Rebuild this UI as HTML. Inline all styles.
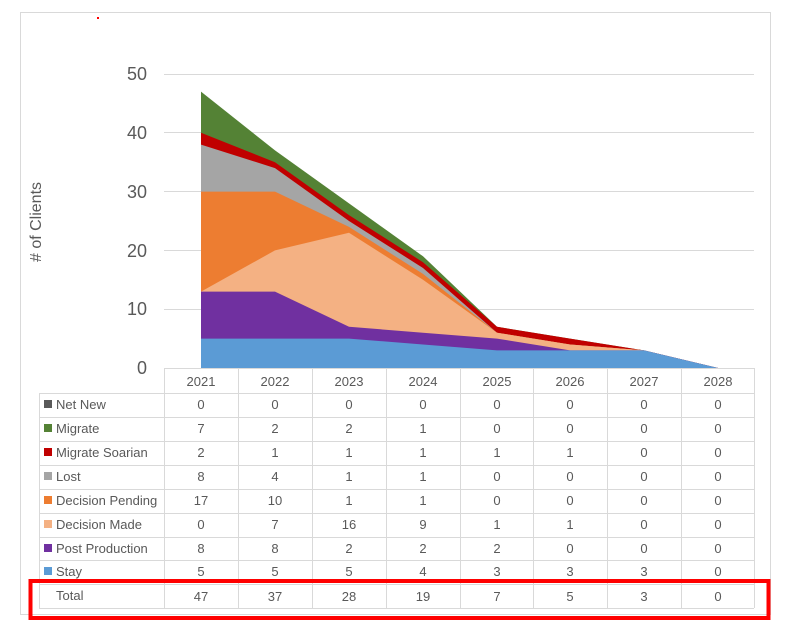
<!DOCTYPE html>
<html><head><style>
body{margin:0;background:#fff;}
svg text{font-family:"Liberation Sans",sans-serif;fill:#595959;}
</style></head><body>
<svg width="789" height="631" viewBox="0 0 789 631" xmlns="http://www.w3.org/2000/svg">
<rect x="0" y="0" width="789" height="631" fill="#fff"/>
<rect x="20.5" y="12.5" width="750" height="602" fill="none" stroke="#d9d9d9"/>
<rect x="97" y="17" width="2" height="2" fill="#f00"/>
<g stroke="#d9d9d9" stroke-width="1">
<line x1="164" y1="74.5" x2="754" y2="74.5"/>
<line x1="164" y1="132.5" x2="754" y2="132.5"/>
<line x1="164" y1="191.5" x2="754" y2="191.5"/>
<line x1="164" y1="250.5" x2="754" y2="250.5"/>
<line x1="164" y1="309.5" x2="754" y2="309.5"/>
</g>
<g font-size="18" text-anchor="end">
<text x="147" y="80">50</text><text x="147" y="139">40</text><text x="147" y="198">30</text>
<text x="147" y="257">20</text><text x="147" y="315">10</text><text x="147" y="374">0</text>
</g>
<text transform="translate(41,222) rotate(-90)" font-size="16" text-anchor="middle">#  of Clients</text>
<polygon fill="#548235" points="201,91.6 275,150.4 349,203.4 423,256.3 497,326.8 570,338.6 644,350.4 718,368 201,368"/>
<polygon fill="#c00000" points="201,132.8 275,162.2 349,215.1 423,262.2 497,326.8 570,338.6 644,350.4 718,368 201,368"/>
<polygon fill="#a5a5a5" points="201,144.6 275,168.1 349,221 423,268 497,332.7 570,344.5 644,350.4 718,368 201,368"/>
<polygon fill="#ed7d31" points="201,191.6 275,191.6 349,226.9 423,273.9 497,332.7 570,344.5 644,350.4 718,368 201,368"/>
<polygon fill="#f4b183" points="201,291.6 275,250.4 349,232.8 423,279.8 497,332.7 570,344.5 644,350.4 718,368 201,368"/>
<polygon fill="#7030a0" points="201,291.6 275,291.6 349,326.8 423,332.7 497,338.6 570,350.4 644,350.4 718,368 201,368"/>
<polygon fill="#5b9bd5" points="201,338.6 275,338.6 349,338.6 423,344.5 497,350.4 570,350.4 644,350.4 718,368 201,368"/>
<g stroke="#d9d9d9" stroke-width="1" fill="none">
<line x1="164" y1="368.5" x2="754" y2="368.5"/>
<line x1="39" y1="393.5" x2="754" y2="393.5"/>
<line x1="39" y1="417.5" x2="754" y2="417.5"/>
<line x1="39" y1="441.5" x2="754" y2="441.5"/>
<line x1="39" y1="465.5" x2="754" y2="465.5"/>
<line x1="39" y1="489.5" x2="754" y2="489.5"/>
<line x1="39" y1="513.5" x2="754" y2="513.5"/>
<line x1="39" y1="537.5" x2="754" y2="537.5"/>
<line x1="39" y1="560.5" x2="754" y2="560.5"/>
<line x1="39" y1="584.5" x2="754" y2="584.5"/>
<line x1="39" y1="608.5" x2="754" y2="608.5"/>
<line x1="39.5" y1="393" x2="39.5" y2="608"/>
<line x1="164.5" y1="368" x2="164.5" y2="608"/>
<line x1="238.5" y1="368" x2="238.5" y2="608"/>
<line x1="312.5" y1="368" x2="312.5" y2="608"/>
<line x1="386.5" y1="368" x2="386.5" y2="608"/>
<line x1="460.5" y1="368" x2="460.5" y2="608"/>
<line x1="533.5" y1="368" x2="533.5" y2="608"/>
<line x1="607.5" y1="368" x2="607.5" y2="608"/>
<line x1="681.5" y1="368" x2="681.5" y2="608"/>
<line x1="754.5" y1="368" x2="754.5" y2="608"/>
</g>
<g font-size="13" text-anchor="middle">
<text x="201" y="386">2021</text><text x="275" y="386">2022</text><text x="349" y="386">2023</text><text x="423" y="386">2024</text><text x="497" y="386">2025</text><text x="570" y="386">2026</text><text x="644" y="386">2027</text><text x="718" y="386">2028</text>
</g>
<g font-size="13">
<rect x="44" y="400" width="8" height="8" fill="#595959"/><text x="56" y="409">Net New</text>
<rect x="44" y="424" width="8" height="8" fill="#548235"/><text x="56" y="433">Migrate</text>
<rect x="44" y="448" width="8" height="8" fill="#c00000"/><text x="56" y="457">Migrate Soarian</text>
<rect x="44" y="472" width="8" height="8" fill="#a5a5a5"/><text x="56" y="481">Lost</text>
<rect x="44" y="496" width="8" height="8" fill="#ed7d31"/><text x="56" y="505">Decision Pending</text>
<rect x="44" y="520" width="8" height="8" fill="#f4b183"/><text x="56" y="529">Decision Made</text>
<rect x="44" y="544" width="8" height="8" fill="#7030a0"/><text x="56" y="553">Post Production</text>
<rect x="44" y="567" width="8" height="8" fill="#5b9bd5"/><text x="56" y="576">Stay</text>
<text x="56" y="600">Total</text>
</g>
<g font-size="13" text-anchor="middle">
<text y="409"><tspan x="201">0</tspan><tspan x="275">0</tspan><tspan x="349">0</tspan><tspan x="423">0</tspan><tspan x="497">0</tspan><tspan x="570">0</tspan><tspan x="644">0</tspan><tspan x="718">0</tspan></text>
<text y="433"><tspan x="201">7</tspan><tspan x="275">2</tspan><tspan x="349">2</tspan><tspan x="423">1</tspan><tspan x="497">0</tspan><tspan x="570">0</tspan><tspan x="644">0</tspan><tspan x="718">0</tspan></text>
<text y="457"><tspan x="201">2</tspan><tspan x="275">1</tspan><tspan x="349">1</tspan><tspan x="423">1</tspan><tspan x="497">1</tspan><tspan x="570">1</tspan><tspan x="644">0</tspan><tspan x="718">0</tspan></text>
<text y="481"><tspan x="201">8</tspan><tspan x="275">4</tspan><tspan x="349">1</tspan><tspan x="423">1</tspan><tspan x="497">0</tspan><tspan x="570">0</tspan><tspan x="644">0</tspan><tspan x="718">0</tspan></text>
<text y="505"><tspan x="201">17</tspan><tspan x="275">10</tspan><tspan x="349">1</tspan><tspan x="423">1</tspan><tspan x="497">0</tspan><tspan x="570">0</tspan><tspan x="644">0</tspan><tspan x="718">0</tspan></text>
<text y="529"><tspan x="201">0</tspan><tspan x="275">7</tspan><tspan x="349">16</tspan><tspan x="423">9</tspan><tspan x="497">1</tspan><tspan x="570">1</tspan><tspan x="644">0</tspan><tspan x="718">0</tspan></text>
<text y="553"><tspan x="201">8</tspan><tspan x="275">8</tspan><tspan x="349">2</tspan><tspan x="423">2</tspan><tspan x="497">2</tspan><tspan x="570">0</tspan><tspan x="644">0</tspan><tspan x="718">0</tspan></text>
<text y="576"><tspan x="201">5</tspan><tspan x="275">5</tspan><tspan x="349">5</tspan><tspan x="423">4</tspan><tspan x="497">3</tspan><tspan x="570">3</tspan><tspan x="644">3</tspan><tspan x="718">0</tspan></text>
<text y="601"><tspan x="201">47</tspan><tspan x="275">37</tspan><tspan x="349">28</tspan><tspan x="423">19</tspan><tspan x="497">7</tspan><tspan x="570">5</tspan><tspan x="644">3</tspan><tspan x="718">0</tspan></text>
</g>
<rect x="30.5" y="581" width="738" height="37" fill="none" stroke="#ff0000" stroke-width="4"/>
</svg>
</body></html>
